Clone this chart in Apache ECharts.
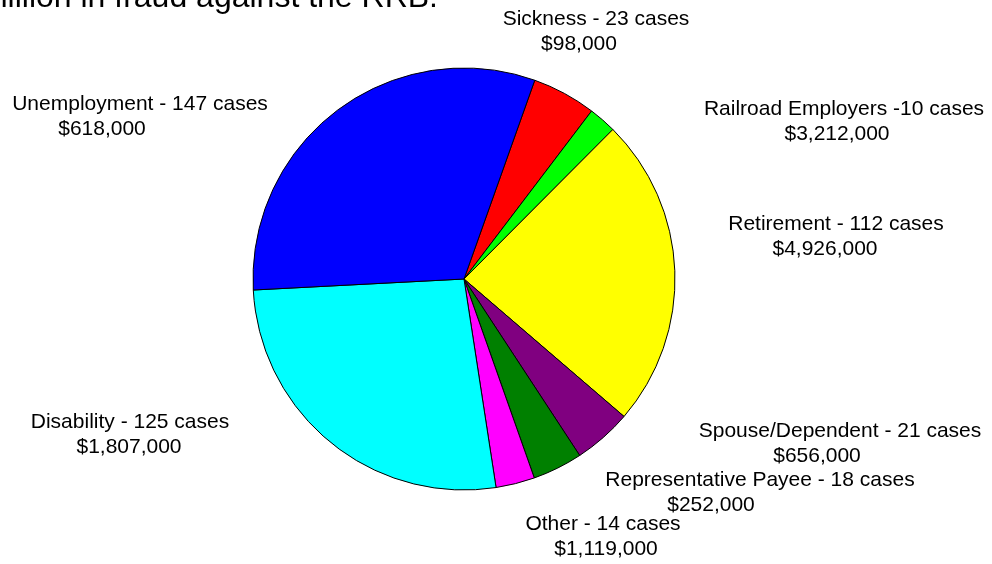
<!DOCTYPE html>
<html>
<head>
<meta charset="utf-8">
<script src="https://cdn.jsdelivr.net/npm/echarts@6/dist/echarts.min.js"></script>
<style>
    html, body { margin: 0; padding: 0; background: #fff; }
    #chart { width: 992px; height: 564px; }
</style>
</head>
<body>
<div id="chart"></div>
<script>
// slice order, clockwise starting at the Sickness slice
let categories = ["Sickness", "Railroad Employers", "Retirement", "Spouse/Dependent", "Representative Payee", "Other", "Disability", "Unemployment"];
let cases = [23, 10, 112, 21, 18, 14, 125, 147];
let amounts = ["$98,000", "$3,212,000", "$4,926,000", "$656,000", "$252,000", "$1,119,000", "$1,807,000", "$618,000"];
let colors = ["#ff0000", "#00ff00", "#ffff00", "#800080", "#008000", "#ff00ff", "#00ffff", "#0000ff"];

// label placement: [centre x, centre y, shift of the amount line]
let labelSpots = [
    [596, 32, -17],
    [844, 122, -7],
    [836, 237, -11],
    [840, 444, -23],
    [760, 493, -49],
    [603, 537, 3],
    [130, 435, -1],
    [140, 117, -38]
];

let labelFont = "Liberation Sans, Arial, sans-serif";
let richStyles = {
    t: {fontSize: 21, lineHeight: 25, color: "#000", fontFamily: labelFont}
};
for (let i = 0; i < labelSpots.length; i++) {
    let s = labelSpots[i][2];
    richStyles["v" + i] = {
        fontSize: 21, lineHeight: 25, color: "#000", fontFamily: labelFont,
        padding: s >= 0 ? [0, 0, 0, 2 * s] : [0, -2 * s, 0, 0]
    };
}

let pieData = [];
for (let i = 0; i < categories.length; i++) {
    let sep = categories[i] == "Railroad Employers" ? " -" : " - ";
    pieData.push({
        value: cases[i],
        name: categories[i],
        caption: categories[i] + sep + cases[i] + " cases",
        itemStyle: {color: colors[i]}
    });
}

let chart = echarts.init(document.getElementById("chart"));
chart.setOption({
    animation: false,
    graphic: [
        {
            type: "text",
            x: 438,
            y: -2,
            style: {
                text: "million in fraud against the RRB.",
                font: "32px Liberation Sans, Arial, sans-serif",
                fill: "#000",
                align: "right",
                verticalAlign: "middle"
            }
        }
    ],
    series: [
        {
            type: "pie",
            center: [464, 279],
            radius: 211,
            startAngle: 70.4,
            clockwise: true,
            data: pieData,
            itemStyle: {borderColor: "#000", borderWidth: 1},
            emphasis: {disabled: true},
            labelLine: {show: false},
            label: {
                show: true,
                position: "outside",
                align: "center",
                formatter: function (p) {
                    return "{t|" + p.data.caption + "}\n{v" + p.dataIndex + "|" + amounts[p.dataIndex] + "}";
                },
                rich: richStyles
            },
            labelLayout: function (params) {
                let spot = labelSpots[params.dataIndex];
                return {x: spot[0], y: spot[1], align: "center", verticalAlign: "middle"};
            }
        }
    ]
});
</script>
</body>
</html>
